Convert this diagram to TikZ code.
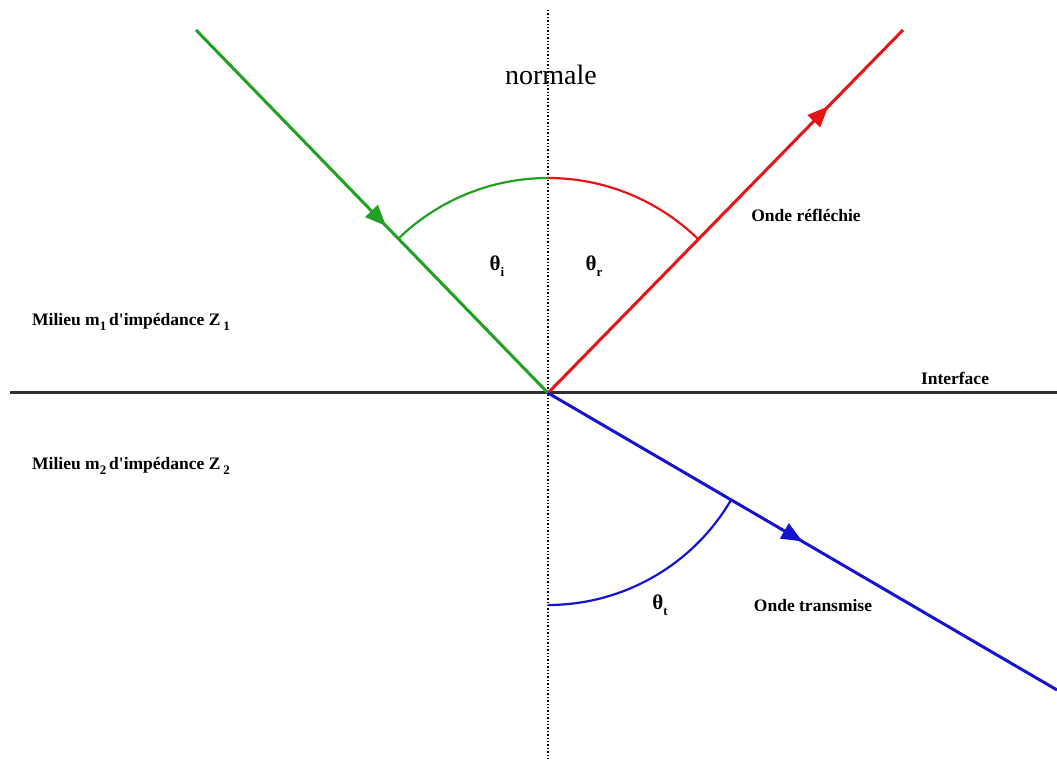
\documentclass[tikz,border=0pt]{standalone}
\usepackage{fontspec}
\setmainfont{Liberation Serif}[Ligatures=TeXOff]
\usetikzlibrary{arrows.meta, decorations.markings}
\definecolor{cInc}{HTML}{22A022}
\definecolor{cRef}{HTML}{E41418}
\definecolor{cTra}{HTML}{1414D0}
\definecolor{cIfc}{HTML}{303030}
\newcommand{\lowsub}[1]{\raisebox{-0.6ex}{\fontsize{13}{14}\selectfont #1}}

\begin{document}
\begin{tikzpicture}[
  x=1pt, y=1pt,
  ray/.style={line width=3pt},
  angarc/.style={line width=2.2pt},
  midarrow/.style={postaction={decorate}, decoration={markings, mark=at position #1 with {\arrow{Triangle[length=21pt,width=17pt]}}}},
  lbl/.style={font=\fontsize{17.5}{20}\selectfont\bfseries, inner sep=0pt},
  greek/.style={font=\fontsize{21}{24}\selectfont\bfseries, inner sep=0pt}
]
\fill[white] (0,0) rectangle (1057,762);
\useasboundingbox (0,0) rectangle (1057,762);

% points of the figure
\coordinate (O) at (548,369);
\coordinate (inc) at (196,732);
\coordinate (refl) at (903,732);
\coordinate (tra) at (1057,72);
\coordinate (ntop) at (548,752);
\coordinate (nbot) at (548,2);
\coordinate (ileft) at (10,369);
\coordinate (iright) at (1057,369);

% normal and interface
\draw[dotted, line width=1.4pt] (ntop) -- (nbot);
\draw[cIfc, line width=3pt] (ileft) -- (iright);

% rays
\draw[ray, cInc, midarrow=0.54] (inc) -- (O);
\draw[ray, cRef, midarrow=0.79] (O) -- (refl);
\draw[ray, cTra, midarrow=0.5] (O) -- (tra);

% angles
\draw[angarc, cInc] (O) ++(90:215) arc[start angle=90, end angle=134.1, radius=215];
\draw[angarc, cRef] (O) ++(90:215) arc[start angle=90, end angle=45.6, radius=215];
\draw[angarc, cTra] (O) ++(-90:212) arc[start angle=-90, end angle=-30.3, radius=212];

% labels
\node[font=\fontsize{28}{30}\selectfont, inner sep=0pt] (normale) at (551,687) {normale};
\node[greek] (thi) at (497,496) {θ\lowsub{i}};
\node[greek] (thr) at (594,496) {θ\lowsub{r}};
\node[greek] (tht) at (660,157) {θ\lowsub{t}};
\node[lbl] (onderef) at (806,547) {Onde réfléchie};
\node[lbl] (ondetra) at (813,156) {Onde transmise};
\node[lbl] (ifc) at (955,384) {Interface};
\node[lbl, anchor=west] (m1) at (32,440) {Milieu m\lowsub{1}\,d'impédance Z\,\lowsub{1}};
\node[lbl, anchor=west] (m2) at (32,296) {Milieu m\lowsub{2}\,d'impédance Z\,\lowsub{2}};
\end{tikzpicture}
\end{document}
